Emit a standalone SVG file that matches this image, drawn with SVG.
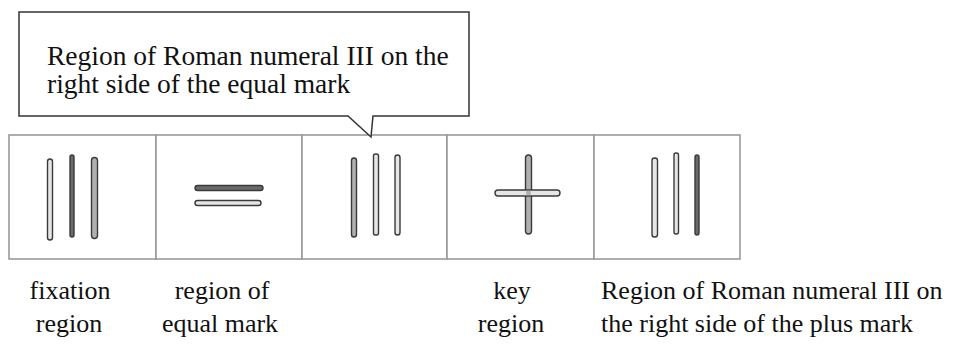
<svg xmlns="http://www.w3.org/2000/svg" width="971" height="346" viewBox="0 0 971 346">
<style>
.panel{fill:#fff;stroke:#9a9a9a;stroke-width:1.6}
.bar{stroke:#3a3a3a;stroke-width:1.4}
.lt{fill:#e6e6e6}.md{fill:#b0b0b0}.dk{fill:#6a6a6a}
.callout{fill:#fff;stroke:#333;stroke-width:1.5}
</style>
<rect width="971" height="346" fill="#fff"/>
<g id="panels">
<g id="fixation"><rect class="panel" x="9" y="135" width="147" height="124"/>
<rect class="bar lt" x="47.5" y="159" width="5" height="81" rx="2.5"/>
<rect class="bar dk" x="70" y="155" width="4" height="82" rx="2"/>
<rect class="bar md" x="91.5" y="157.5" width="6" height="81" rx="3"/></g>
<g id="equal"><rect class="panel" x="156" y="135" width="146" height="124"/>
<rect class="bar dk" x="195" y="185.5" width="68" height="5" rx="2.5"/>
<rect class="bar lt" x="195" y="200.5" width="66" height="5" rx="2.5"/></g>
<g id="numeral1"><rect class="panel" x="302" y="135" width="145" height="124"/>
<rect class="bar md" x="351.5" y="158" width="5" height="79" rx="2.5"/>
<rect class="bar lt" x="373.5" y="154" width="5" height="81" rx="2"/>
<rect class="bar lt" x="395" y="155" width="5" height="80" rx="2.5"/></g>
<g id="plus"><rect class="panel" x="447" y="135" width="147" height="124"/>
<rect class="bar md" x="525.5" y="155" width="6" height="79" rx="3"/>
<rect class="bar lt" x="495" y="190" width="65" height="6" rx="3"/>
<rect fill="#b0b0b0" x="526.2" y="190.7" width="4.6" height="4.6"/></g>
<g id="numeral2"><rect class="panel" x="594" y="135" width="146" height="124"/>
<rect class="bar lt" x="652" y="158" width="5.5" height="79" rx="2.5"/>
<rect class="bar lt" x="674" y="153" width="4.5" height="81" rx="2"/>
<rect class="bar dk" x="695" y="155" width="4" height="80" rx="2"/></g>
</g>
<g id="callout">
<path class="callout" d="M19,12 H469 V116 H373 L371,137 L348,116 H19 Z"/>
<text x="47" y="65" font-family="Liberation Serif" font-size="27.5" fill="#111">Region of Roman numeral III on the</text>
<text x="47" y="93" font-family="Liberation Serif" font-size="27.5" fill="#111">right side of the equal mark</text>
</g>
<g id="labels">
<g id="lbl-fixation"><text x="70" y="299" text-anchor="middle" font-family="Liberation Serif" font-size="26" fill="#111">fixation</text><text x="69" y="332" text-anchor="middle" font-family="Liberation Serif" font-size="26" fill="#111">region</text></g>
<g id="lbl-equal"><text x="222" y="299" text-anchor="middle" font-family="Liberation Serif" font-size="26" fill="#111">region of</text><text x="220" y="332" text-anchor="middle" font-family="Liberation Serif" font-size="26" fill="#111">equal mark</text></g>
<g id="lbl-key"><text x="512" y="299" text-anchor="middle" font-family="Liberation Serif" font-size="26" fill="#111">key</text><text x="511" y="332" text-anchor="middle" font-family="Liberation Serif" font-size="26" fill="#111">region</text></g>
<g id="lbl-right"><text x="601" y="299" font-family="Liberation Serif" font-size="26" fill="#111">Region of Roman numeral III on</text><text x="601" y="332" font-family="Liberation Serif" font-size="26" fill="#111">the right side of the plus mark</text></g>
</g>
</svg>
